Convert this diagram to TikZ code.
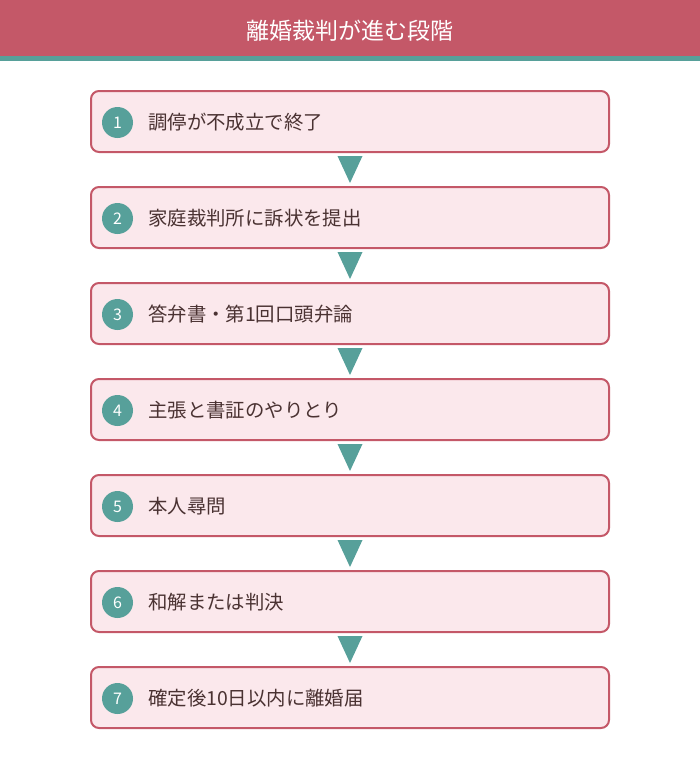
\documentclass[tikz,border=0pt]{standalone}
\usepackage{fontspec}
\usetikzlibrary{calc}
\setmainfont{Noto Sans CJK JP}
\definecolor{hdr}{HTML}{C45868}
\definecolor{teal}{HTML}{57A09A}
\definecolor{boxfill}{HTML}{FBE8EC}
\definecolor{txt}{HTML}{4A3232}
\tikzset{
  stepbox/.style={draw=hdr, line width=2pt, fill=boxfill, rounded corners=8pt, minimum width=518pt, minimum height=61pt, inner sep=0pt},
  numdot/.style={circle, fill=teal, minimum size=31pt, inner sep=0pt, text=white, font=\fontsize{16}{16}\selectfont},
  steptext/.style={anchor=west, text=txt, font=\fontsize{19.4}{19.4}\selectfont, inner sep=0pt},
  tri/.style={fill=teal}
}
\begin{document}
\begin{tikzpicture}[x=1pt,y=-1pt]
\useasboundingbox (0,0) rectangle (700,758);
\fill[hdr] (0,0) rectangle (700,56);
\fill[teal] (0,56) rectangle (700,61);
\node[text=white, font=\fontsize{23}{23}\selectfont] (title) at (350,30.5) {離婚裁判が進む段階};
\foreach \i/\t in {1/調停が不成立で終了,2/家庭裁判所に訴状を提出,3/答弁書・第1回口頭弁論,4/主張と書証のやりとり,5/本人尋問,6/和解または判決,7/確定後10日以内に離婚届}{
  \pgfmathsetmacro{\yc}{121.5+96*(\i-1)}
  \node[stepbox] (b\i) at (350,\yc) {};
  \node[numdot] (n\i) at (117.5,\yc+1) {\i};
  \node[steptext] (t\i) at (148,\yc+1) {\t};
}
\foreach \i in {1,...,6}{
  \fill[tri] ($(b\i.south)+(-12.5,3)$) -- ($(b\i.south)+(12.5,3)$) -- ($(b\i.south)+(0,30)$) -- cycle;
}
\end{tikzpicture}
\end{document}
